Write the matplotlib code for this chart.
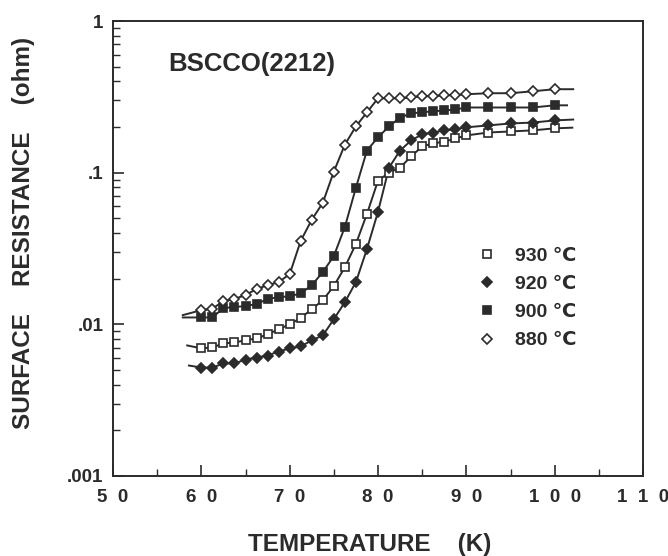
import matplotlib
matplotlib.use("Agg")
import matplotlib.pyplot as plt
from matplotlib.ticker import FixedLocator, NullFormatter

plt.rcParams['font.family'] = ['Liberation Sans', 'DejaVu Sans']

temps = [60.0, 61.25, 62.5, 63.75, 65.0, 66.25, 67.5, 68.75, 70.0, 71.25,
         72.5, 73.75, 75.0, 76.25, 77.5, 78.75, 80.0, 81.25, 82.5, 83.75,
         85.0, 86.25, 87.5, 88.75, 90.0, 92.5, 95.0, 97.5, 100.0]

r930 = [0.00694, 0.00705, 0.00748, 0.00760, 0.00784, 0.00808, 0.00859, 0.00927, 0.0100, 0.0110,
        0.0126, 0.0144, 0.0179, 0.0238, 0.0339, 0.0535, 0.0885, 0.100, 0.108, 0.128,
        0.149, 0.156, 0.160, 0.168, 0.176, 0.184, 0.187, 0.190, 0.196]
r920 = [0.00519, 0.00519, 0.00552, 0.00552, 0.00586, 0.00604, 0.00623, 0.00662, 0.00694, 0.00715,
        0.00784, 0.00845, 0.0108, 0.0140, 0.0190, 0.0314, 0.0552, 0.108, 0.140, 0.163,
        0.179, 0.184, 0.190, 0.193, 0.199, 0.205, 0.211, 0.214, 0.221]
r900 = [0.0111, 0.0111, 0.0128, 0.0130, 0.0132, 0.0136, 0.0147, 0.0151, 0.0153, 0.0160,
        0.0181, 0.0221, 0.0282, 0.0439, 0.0796, 0.140, 0.171, 0.202, 0.231, 0.246,
        0.250, 0.254, 0.257, 0.261, 0.269, 0.269, 0.269, 0.269, 0.278]
r880 = [0.0124, 0.0127, 0.0142, 0.0147, 0.0156, 0.0171, 0.0181, 0.0190, 0.0214, 0.0355,
        0.0489, 0.0633, 0.1016, 0.153, 0.202, 0.250, 0.309, 0.309, 0.309, 0.314,
        0.319, 0.319, 0.324, 0.324, 0.329, 0.334, 0.334, 0.344, 0.355]

# fitted-curve end points
line_start = {'930': (58.4, 0.00726), '920': (58.6, 0.00535), '900': (57.9, 0.0111), '880': (57.9, 0.0115)}
line_end = {'930': (102.0, 0.198), '920': (102.1, 0.224), '900': (101.4, 0.278), '880': (102.1, 0.355)}

labels = ['930', '920', '900', '880']
series = {'930': r930, '920': r920, '900': r900, '880': r880}
markers = {'930': ('s', 'white'), '920': ('D', '#2b2b2b'), '900': ('s', '#2b2b2b'), '880': ('D', 'white')}
msizes = {'930': 6.0, '920': 5.0, '900': 6.0, '880': 5.0}

ink = '#2b2b2b'

fig = plt.figure(figsize=(6.68, 5.56), dpi=100)
ax = fig.add_axes([113/668, 1-476/556, 530/668, 455/556])

handles = []
for lab in labels:
    vals = series[lab]
    xs = [line_start[lab][0]] + temps + [line_end[lab][0]]
    ys = [line_start[lab][1]] + vals + [line_end[lab][1]]
    ax.plot(xs, ys, color=ink, lw=1.4, zorder=2)
    m, fc = markers[lab]
    h, = ax.plot(temps, vals, linestyle='none', marker=m, ms=msizes[lab],
                 mfc=fc, mec=ink, mew=1.2, zorder=3, label=lab + ' \u2103')
    handles.append(h)

ax.set_yscale('log')
ax.set_xlim(50, 110)
ax.set_ylim(0.001, 1)

ax.xaxis.set_major_locator(FixedLocator([50, 60, 70, 80, 90, 100, 110]))
ax.xaxis.set_minor_locator(FixedLocator([55, 65, 75, 85, 95, 105]))
ax.set_xticklabels(['5  0', '6  0', '7  0', '8  0', '9  0', '1  0  0', '1  1  0'], fontweight='bold')
ax.xaxis.set_minor_formatter(NullFormatter())

ax.yaxis.set_major_locator(FixedLocator([0.001, 0.01, 0.1, 1]))
minors = []
for d in [0.001, 0.01, 0.1]:
    for k in range(2, 10):
        minors.append(d * k)
ax.yaxis.set_minor_locator(FixedLocator(minors))
ax.set_yticklabels(['.001', '.01', '.1', '1'], fontweight='bold')
ax.yaxis.set_minor_formatter(NullFormatter())

ax.tick_params(axis='both', which='both', direction='in', colors=ink, labelcolor=ink,
               top=False, right=False)
ax.tick_params(axis='both', which='major', length=8, width=1.2, labelsize=13.5)
ax.tick_params(axis='both', which='minor', length=5, width=1.0)
ax.tick_params(axis='x', which='major', pad=9)
ax.tick_params(axis='y', which='major', pad=7)

for s in ax.spines.values():
    s.set_color(ink)
    s.set_linewidth(1.4)

ax.set_xlabel('TEMPERATURE    (K)', fontsize=17.5, color=ink, fontweight='bold')
ax.xaxis.set_label_coords(0.485, -0.125)
ax.set_ylabel('SURFACE    RESISTANCE    (ohm)', fontsize=17.5, color=ink,
              fontweight='bold')
ax.yaxis.set_label_coords(-0.147, 0.535)

fig.text(168/668, 1 - 64/556, 'BSCCO(2212)', fontsize=18.5, color=ink,
         fontweight='bold', va='center', ha='left')

leg = ax.legend(handles=handles, loc='upper left', bbox_to_anchor=(0.655, 0.542),
                frameon=False, handlelength=1.0, handletextpad=0.9,
                labelspacing=0.55, labelcolor=ink, prop={'weight': 'bold', 'size': 14})

fig.savefig('out.png', dpi=100)
